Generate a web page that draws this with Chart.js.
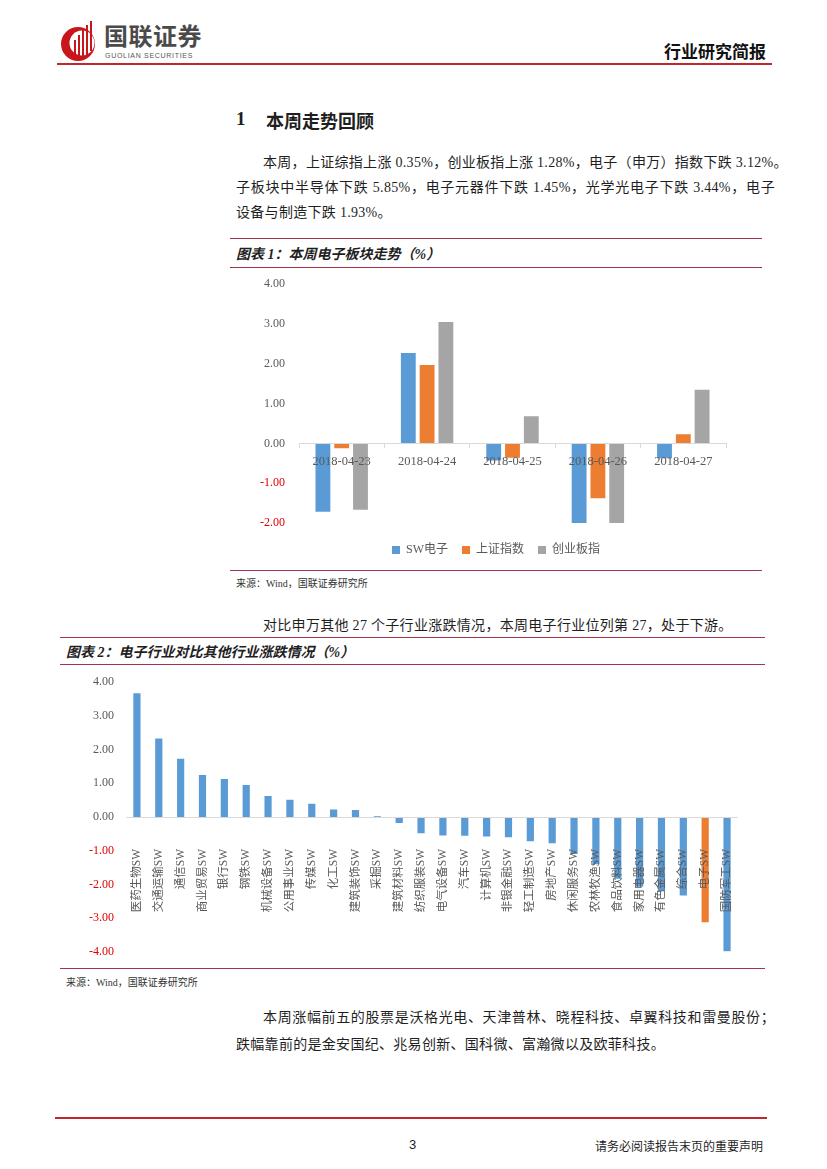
<!DOCTYPE html>
<html><head><meta charset="utf-8">
<script src="https://cdn.jsdelivr.net/npm/chart.js@4.4.0/dist/chart.umd.min.js"></script>
<style>
html,body{margin:0;padding:0;background:#fff;}
body{width:827px;height:1169px;position:relative;overflow:hidden;font-family:"Liberation Serif","Noto Sans CJK SC",serif;color:#1f1f1f;}
.abs{position:absolute;white-space:nowrap;}
.p{font-size:14px;line-height:20px;letter-spacing:0.3px;}
.j{text-align:justify;text-align-last:justify;}
.rule{position:absolute;height:0;border-top:1px solid #A3344A;}
.ttl{font-family:"Liberation Serif","Noto Sans CJK SC",serif;font-weight:bold;font-style:italic;font-size:14px;}
.src{font-size:10px;color:#333;}
canvas{position:absolute;}
</style></head><body>

<svg class="abs" style="left:60px;top:20px" width="40" height="44" viewBox="0 0 40 44">
  <circle cx="18" cy="24" r="17" fill="#C8161D"/>
  <circle cx="22" cy="23" r="12.5" fill="#fff"/>
  <rect x="14" y="20" width="2" height="19" fill="#C8161D"/>
  <rect x="18" y="15" width="2" height="25" fill="#C8161D"/>
  <rect x="22" y="10" width="2" height="29" fill="#C8161D"/>
  <rect x="26" y="5" width="2" height="31" fill="#C8161D"/>
  <rect x="30" y="1" width="2" height="30" fill="#C8161D"/>
</svg>
<div class="abs" style="left:104px;top:19px;font-family:'Noto Sans CJK SC';font-weight:bold;font-size:24px;line-height:32px;color:#4a4a4a;letter-spacing:0.5px;">国联证券</div>
<div class="abs" style="left:105px;top:52px;font-family:'Liberation Sans';font-size:7px;line-height:8px;color:#555;letter-spacing:0.7px;">GUOLIAN SECURITIES</div>
<div class="abs" style="left:664px;top:38px;font-family:'Noto Sans CJK SC';font-weight:bold;font-size:17px;color:#111;">行业研究简报</div>
<div class="rule" style="left:57px;top:63px;width:715px;border-top:2px solid #C0282D;"></div>

<div class="abs" style="left:236px;top:108px;font-family:'Liberation Serif';font-weight:bold;font-size:19px;">1</div>
<div class="abs" style="left:266px;top:107px;font-family:'Noto Sans CJK SC';font-weight:bold;font-size:18px;">本周走势回顾</div>

<div class="abs p j" style="left:263px;top:153px;width:509px;">本周，上证综指上涨 0.35%，创业板指上涨 1.28%，电子（申万）指数下跌 3.12%。</div>
<div class="abs p j" style="left:236px;top:178px;width:539px;">子板块中半导体下跌 5.85%，电子元器件下跌 1.45%，光学光电子下跌 3.44%，电子</div>
<div class="abs p" style="left:236px;top:203px;">设备与制造下跌 1.93%。</div>

<div class="rule" style="left:230px;top:238px;width:532px;"></div>
<div class="abs ttl" style="left:236px;top:243px;">图表 1：本周电子板块走势（%）</div>
<div class="rule" style="left:230px;top:267px;width:532px;"></div>
<canvas id="c1" width="532" height="296" style="left:230px;top:263px;"></canvas>
<div class="rule" style="left:230px;top:570px;width:532px;"></div>
<div class="abs src" style="left:236px;top:575px;">来源：Wind，国联证券研究所</div>

<div class="abs p" style="left:263px;top:616px;">对比申万其他 27 个子行业涨跌情况，本周电子行业位列第 27，处于下游。</div>

<div class="rule" style="left:60px;top:637px;width:705px;"></div>
<div class="abs ttl" style="left:66px;top:641px;">图表 2：电子行业对比其他行业涨跌情况（%）</div>
<div class="rule" style="left:60px;top:664px;width:705px;"></div>
<canvas id="c2" width="713" height="308" style="left:60px;top:663px;"></canvas>
<div class="rule" style="left:60px;top:968px;width:705px;"></div>
<div class="abs src" style="left:66px;top:974px;">来源：Wind，国联证券研究所</div>

<div class="abs p j" style="left:263px;top:1008px;width:512px;">本周涨幅前五的股票是沃格光电、天津普林、晓程科技、卓翼科技和雷曼股份；</div>
<div class="abs p" style="left:236px;top:1035px;">跌幅靠前的是金安国纪、兆易创新、国科微、富瀚微以及欧菲科技。</div>

<div class="rule" style="left:55px;top:1117px;width:712px;border-top:2px solid #C0282D;"></div>
<div class="abs" style="left:409px;top:1137px;font-family:'Liberation Sans';font-size:13px;">3</div>
<div class="abs" style="left:595px;top:1137px;font-size:12px;">请务必阅读报告末页的重要声明</div>

<script>
// ---- Chart 1 data ----
const dates = ['2018-04-23', '2018-04-24', '2018-04-25', '2018-04-26', '2018-04-27'];
const swElectronics = [-1.72, 2.27, -0.43, -2.00, -0.37];
const shIndex = [-0.12, 1.97, -0.36, -1.38, 0.23];
const chinext = [-1.67, 3.05, 0.68, -2.00, 1.35];
const seriesNames = ['SW电子', '上证指数', '创业板指'];

// ---- Chart 2 data ----
const industries = ['医药生物SW', '交通运输SW', '通信SW', '商业贸易SW', '银行SW', '钢铁SW', '机械设备SW',
  '公用事业SW', '传媒SW', '化工SW', '建筑装饰SW', '采掘SW', '建筑材料SW', '纺织服装SW', '电气设备SW',
  '汽车SW', '计算机SW', '非银金融SW', '轻工制造SW', '房地产SW', '休闲服务SW', '农林牧渔SW', '食品饮料SW',
  '家用电器SW', '有色金属SW', '综合SW', '电子SW', '国防军工SW'];
const industryChange = [3.67, 2.33, 1.73, 1.25, 1.13, 0.95, 0.62, 0.51, 0.39, 0.22, 0.21, 0.02, -0.18,
  -0.48, -0.55, -0.56, -0.58, -0.60, -0.72, -0.78, -1.10, -1.40, -1.83, -2.07, -2.20, -2.33, -3.12, -3.98];
const highlightIndustry = '电子SW';

const BLUE = '#5B9BD5', ORANGE = '#ED7D31', GREY = '#A5A5A5', TXT = '#595959', NEG = '#E00000';
const FONT = "'Liberation Serif', 'Noto Sans CJK SC', serif";

const shiftLegend = {
  id: 'shiftLegend',
  afterLayout(chart, args, opts) {
    const lg = chart.legend;
    if (!lg) return;
    lg.top += opts.dy; lg.bottom += opts.dy;
    lg.left += opts.dx; lg.right += opts.dx;
  }
};

const yTickColor = ctx => (ctx.tick && ctx.tick.value < 0) ? NEG : TXT;

new Chart(document.getElementById('c1'), {
  type: 'bar',
  data: {
    labels: dates,
    datasets: [
      { label: seriesNames[0], data: swElectronics, backgroundColor: BLUE },
      { label: seriesNames[1], data: shIndex, backgroundColor: ORANGE },
      { label: seriesNames[2], data: chinext, backgroundColor: GREY }
    ]
  },
  options: {
    responsive: false, animation: false, devicePixelRatio: 1,
    datasets: { bar: { categoryPercentage: 0.66, barPercentage: 0.79 } },
    layout: { padding: { top: 0, right: 36, bottom: 0, left: 0 } },
    scales: {
      x: {
        position: { y: 0 },
        grid: { display: true, drawOnChartArea: false, drawTicks: true, tickLength: 4, color: '#D9D9D9', offset: true, z: 1 },
        border: { display: true, color: '#D9D9D9', z: 1 },
        ticks: { z: 2, color: TXT, font: { family: FONT, size: 12.5 }, padding: 7, maxRotation: 0, autoSkip: false }
      },
      y: {
        min: -2, max: 4,
        ticks: { stepSize: 1, callback: v => Number(v).toFixed(2), color: yTickColor, font: { family: FONT, size: 12 }, padding: 14 },
        grid: { display: false, drawTicks: false },
        border: { display: false },
        afterFit(s) { s.width = 69; }
      }
    },
    plugins: {
      legend: { position: 'bottom', labels: { boxWidth: 8, boxHeight: 8, padding: 14, color: TXT, font: { family: FONT, size: 12 } } },
      tooltip: { enabled: false },
      shiftLegend: { dx: 18, dy: 7 }
    }
  },
  plugins: [shiftLegend]
});

new Chart(document.getElementById('c2'), {
  type: 'bar',
  data: {
    labels: industries,
    datasets: [{
      data: industryChange,
      backgroundColor: industries.map(n => n === highlightIndustry ? ORANGE : BLUE),
      categoryPercentage: 1, barPercentage: 0.33
    }]
  },
  options: {
    responsive: false, animation: false, devicePixelRatio: 1,
    layout: { padding: { top: 0, right: 9, bottom: 0, left: 0 } },
    scales: {
      x: {
        position: { y: 0 },
        grid: { display: false, drawTicks: false },
        border: { display: true, color: '#D9D9D9', z: 1 },
        ticks: { z: 2, color: TXT, font: { family: FONT, size: 11.5 }, padding: 32, minRotation: 90, maxRotation: 90, autoSkip: false }
      },
      y: {
        min: -4, max: 4,
        ticks: { stepSize: 1, callback: v => Number(v).toFixed(2), color: yTickColor, font: { family: FONT, size: 12 }, padding: 12 },
        grid: { display: false, drawTicks: false },
        border: { display: false },
        afterFit(s) { s.width = 66; }
      }
    },
    plugins: { legend: { display: false }, tooltip: { enabled: false } }
  }
});
</script>
</body></html>
